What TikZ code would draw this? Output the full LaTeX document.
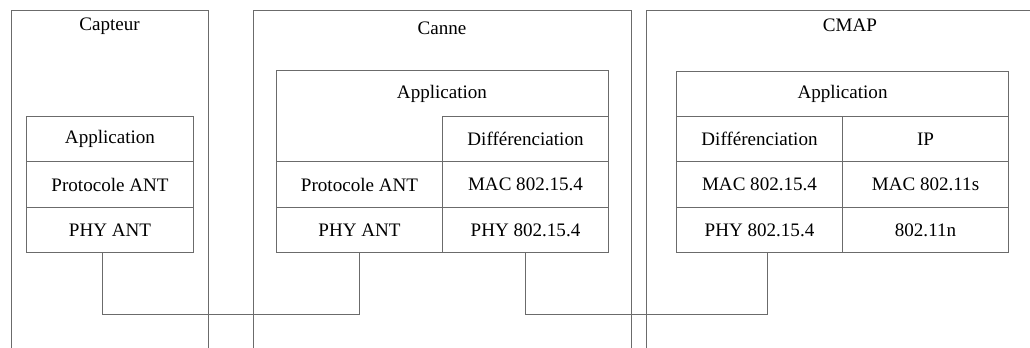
\documentclass[tikz,border=0pt]{standalone}
\usepackage{fontspec}
\setmainfont{Liberation Serif}
\begin{document}
\begin{tikzpicture}[x=0.75pt,y=-0.75pt,
  ln/.style={draw=black!58,line width=0.75pt},
  cell/.style={ln,minimum height=34pt,inner sep=0pt,anchor=north west,font=\fontsize{14.3pt}{16pt}\selectfont,text=black},
  ttl/.style={font=\fontsize{14.3pt}{16pt}\selectfont,inner sep=0pt}]
\useasboundingbox (0,0) rectangle (1030,347);
\begin{scope}
\clip (0,0) rectangle (1030,347);
% outer device frames
\draw[ln] (11,360) -- (11,10) -- (208,10) -- (208,360);
\draw[ln] (253,360) -- (253,10) -- (631,10) -- (631,360);
\draw[ln] (646,360) -- (646,10) -- (1040,10);
\end{scope}
\node[ttl] (tcap) at (109.5,26) {Capteur};
\node[ttl] (tcan) at (442,28) {Canne};
\node[ttl] (tcmap) at (850,25) {CMAP};
% Capteur stack
\node[cell,minimum width=125.25pt] (capapp) at (26,116) {Application};
\node[cell,minimum width=125.25pt] (capant) at (26,161.33) {Protocole ANT};
\node[cell,minimum width=125.25pt] (capphy) at (26,206.67) {PHY ANT};
% Canne stack
\draw[ln] (276,252) -- (276,70.67) -- (608,70.67) -- (608,252);
\node[ttl] (canapp) at (442,94) {Application};
\node[cell,minimum width=124.5pt] (candif) at (442,116) {Différenciation};
\node[cell,minimum width=124.5pt] (canant) at (276,161.33) {Protocole ANT};
\node[cell,minimum width=124.5pt] (canmac) at (442,161.33) {MAC 802.15.4};
\node[cell,minimum width=124.5pt] (canphya) at (276,206.67) {PHY ANT};
\node[cell,minimum width=124.5pt] (canphyb) at (442,206.67) {PHY 802.15.4};
% CMAP stack
\node[cell,minimum width=249pt] (cmapapp) at (676,70.67) {Application};
\node[cell,minimum width=124.5pt] (cmapdif) at (676,116) {Différenciation};
\node[cell,minimum width=124.5pt] (cmapip) at (842,116) {IP};
\node[cell,minimum width=124.5pt] (cmapmac) at (676,161.33) {MAC 802.15.4};
\node[cell,minimum width=124.5pt] (cmapmacs) at (842,161.33) {MAC 802.11s};
\node[cell,minimum width=124.5pt] (cmapphy) at (676,206.67) {PHY 802.15.4};
\node[cell,minimum width=124.5pt] (cmapn) at (842,206.67) {802.11n};
% links
\draw[ln] ([xshift=-5.6pt]capphy.south) -- ++(0,61) -| (canphya.south);
\draw[ln] (canphyb.south) -- ++(0,61) -| ([xshift=6pt]cmapphy.south);
\end{tikzpicture}
\end{document}
